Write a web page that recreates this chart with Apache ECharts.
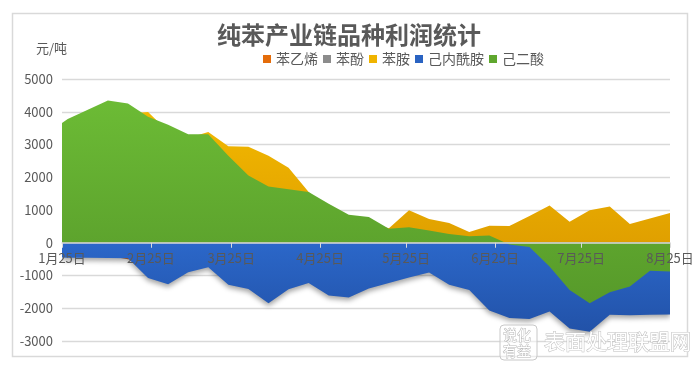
<!DOCTYPE html>
<html>
<head>
<meta charset="utf-8">
<script src="https://cdn.jsdelivr.net/npm/echarts@6/dist/echarts.min.js"></script>
<style>
html,body{margin:0;padding:0;background:#fff;}
#chart{width:698px;height:367px;}
</style>
</head>
<body>
<div id="chart"></div>
<script>
// ---- data ----
const dates = ['2019-01-25','2019-01-27','2019-02-03','2019-02-10','2019-02-17','2019-02-24','2019-03-03','2019-03-10','2019-03-17','2019-03-24','2019-03-31','2019-04-07','2019-04-14','2019-04-21','2019-04-28','2019-05-05','2019-05-12','2019-05-19','2019-05-26','2019-06-02','2019-06-09','2019-06-16','2019-06-23','2019-06-30','2019-07-07','2019-07-14','2019-07-21','2019-07-28','2019-08-04','2019-08-11','2019-08-18','2019-08-25'];
const seriesNames = ['苯乙烯','苯酚','苯胺','己内酰胺','己二酸'];
const styrene = [-300,-320,-350,-400,-500,-600,-700,-500,-400,-600,-700,-800,-600,-500,-700,-800,-600,-500,-400,-300,-500,-600,-800,-900,-1000,-900,-1100,-1200,-1000,-900,-800,-700];
const phenol = [2100,2200,2300,2500,2400,2000,1800,1700,1500,1400,1300,1100,900,800,700,600,500,350,300,250,200,150,100,200,300,400,350,450,500,400,450,500];
const aniline = [3300,3400,3550,3700,3950,3990,3400,3200,3380,2950,2930,2660,2290,1550,1000,700,600,440,990,725,600,325,520,510,820,1140,640,990,1110,570,740,910];
const caprolactam = [-450,-455,-460,-465,-470,-1080,-1265,-900,-745,-1285,-1415,-1845,-1420,-1230,-1610,-1670,-1400,-1230,-1060,-910,-1285,-1440,-2070,-2300,-2330,-2100,-2620,-2720,-2200,-2210,-2200,-2190];
const adipic = [3660,3780,4060,4340,4250,3850,3600,3310,3310,2660,2050,1720,1630,1550,1190,855,785,430,470,375,265,195,225,-50,-130,-725,-1440,-1845,-1510,-1335,-855,-875];
const tickDates = ['2019-01-25','2019-02-25','2019-03-25','2019-04-25','2019-05-25','2019-06-25','2019-07-25','2019-08-25'];
const xTickLabels = ['1月25日','2月25日','3月25日','4月25日','5月25日','6月25日','7月25日','8月25日'];
const yMin = -3000, yMax = 5000, yStep = 1000;
// ---------------

function toDay(s){
  const p = s.split('-').map(Number);
  return Math.round((Date.UTC(p[0], p[1]-1, p[2]) - Date.UTC(2019, 0, 25)) / 86400000);
}
const tickDays = tickDates.map(toDay);
const FONT = '"Noto Sans CJK SC", "Noto Sans", sans-serif';
const colors = ['#e46c0a','#8c8c8c','#f0b400','#2a63c2','#5fa72e'];

const W = 698, H = 367;
const gridBox = {left: 62, right: 28, top: 79, bottom: 26};
const plotH = H - gridBox.top - gridBox.bottom;
// place the category (date) axis on the value 0 of the y scale
const zeroOffset = -plotH * (0 - yMin) / (yMax - yMin);

function grad(top, bottom){
  return new echarts.graphic.LinearGradient(0,0,0,1,[{offset:0,color:top},{offset:1,color:bottom}]);
}
const fills = [
  '#e46c0a',
  '#8c8c8c',
  grad('#f2b800','#e0a000'),
  grad('#2b67c9','#2252a8'),
  grad('#6cbb35','#579a2a')
];
const values = [styrene, phenol, aniline, caprolactam, adipic];

const series = values.map((vals, k) => ({
  name: seriesNames[k],
  type: 'line',
  data: dates.map((d, i) => [toDay(d), vals[i]]),
  symbol: 'none',
  smooth: false,
  lineStyle: {width: 0},
  itemStyle: {color: colors[k]},
  areaStyle: Object.assign({color: fills[k], opacity: 1},
    k === 3 ? {shadowColor: 'rgba(0,0,0,0.35)', shadowBlur: 5, shadowOffsetY: 3} : {}),
  emphasis: {disabled: true},
  z: 2
}));

const chart = echarts.init(document.getElementById('chart'), null, {renderer: 'canvas'});
chart.setOption({
  animation: false,
  textStyle: {fontFamily: FONT},
  title: {
    text: '纯苯产业链品种利润统计',
    left: 'center',
    top: 23,
    padding: 0,
    textStyle: {fontSize: 24, fontWeight: 'bold', color: '#595959', fontFamily: FONT}
  },
  legend: {
    data: seriesNames,
    left: 263,
    top: 52,
    padding: 0,
    itemWidth: 8,
    itemHeight: 8,
    itemGap: 5,
    icon: 'rect',
    textStyle: {fontSize: 14, color: '#595959', fontFamily: FONT}
  },
  grid: Object.assign({containLabel: false}, gridBox),
  xAxis: {
    type: 'value',
    min: tickDays[0],
    max: tickDays[tickDays.length - 1],
    z: 5,
    offset: zeroOffset,
    axisLine: {show: true, onZero: false, lineStyle: {color: '#d9d9d9', width: 1.5}},
    axisTick: {show: true, customValues: tickDays, length: 5, inside: false, lineStyle: {color: '#d9d9d9', width: 1}},
    axisLabel: {
      customValues: tickDays,
      formatter: function (v) { const i = tickDays.indexOf(Math.round(v)); return i >= 0 ? xTickLabels[i] : ''; },
      color: '#595959', fontSize: 13, margin: 9, hideOverlap: false, fontFamily: FONT
    },
    splitLine: {show: false}
  },
  yAxis: {
    type: 'value',
    min: yMin, max: yMax, interval: yStep,
    axisLine: {show: false, onZero: false},
    axisTick: {show: false},
    axisLabel: {color: '#595959', fontSize: 13, margin: 9, fontFamily: FONT, formatter: function (v) { return String(v); }},
    splitLine: {lineStyle: {color: '#d9d9d9', width: 1.3}}
  },
  graphic: [
    {type: 'rect', shape: {x: 12.5, y: 13.5, width: 675, height: 343}, style: {fill: 'none', stroke: '#d9d9d9', lineWidth: 1.5}, z: 0, silent: true},
    {type: 'text', left: 36, top: 42, style: {text: '元/吨', fontSize: 13, fill: '#595959', fontFamily: FONT}, silent: true},
    {type: 'rect', shape: {x: 500, y: 325, width: 37, height: 35, r: 4}, style: {fill: 'rgba(255,255,255,0.5)', stroke: '#c8c8c8', lineWidth: 1}, z: 20, silent: true},
    {type: 'text', x: 503, y: 327, style: {text: '说化\n有益', fontSize: 14, lineHeight: 16, fill: '#ffffff', stroke: '#b8b8b8', lineWidth: 1, fontFamily: FONT}, z: 21, silent: true},
    {type: 'text', x: 544, y: 331, style: {text: '表面处理联盟网', fontSize: 21, fill: '#ffffff', stroke: '#bdbdbd', lineWidth: 1, fontFamily: FONT}, z: 21, silent: true}
  ],
  series: series
});
</script>
</body>
</html>
